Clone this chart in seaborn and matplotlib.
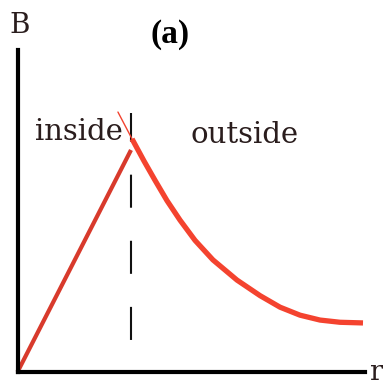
import matplotlib
matplotlib.use('Agg')
import matplotlib.pyplot as plt
import seaborn as sns
import pandas as pd

# values (r in units of the radius R, B relative to the peak)
inside_r = [0.0, 1.0]
inside_b = [0.0, 1.0]
outside_r = [1.009, 1.115, 1.211, 1.317, 1.432, 1.564, 1.722, 1.934, 2.137,
             2.313, 2.489, 2.665, 2.841, 3.044]
outside_b = [1.05, 0.950, 0.864, 0.772, 0.684, 0.593, 0.505, 0.414, 0.344,
             0.292, 0.256, 0.234, 0.224, 0.221]
stray_r = [0.885, 1.009]
stray_b = [1.171, 1.05]
boundary_r = [1.0, 1.0]
boundary_b = [1.167, 0.0]

W, H = 383, 385
sns.set_style("white")
plt.rcParams['lines.scale_dashes'] = False
plt.rcParams['font.family'] = ['DejaVu Serif']

fig = plt.figure(figsize=(W / 100, H / 100), dpi=100)
x0, y0 = 17.5, 372
ax = fig.add_axes([x0 / W, 1 - y0 / H, (365 - x0) / W, (y0 - 50) / H])
ax.set_xlim(0, (365 - x0) / 113.5)
ax.set_ylim(0, (y0 - 50) / 222)

df_in = pd.DataFrame({'r': inside_r, 'B': inside_b})
df_out = pd.DataFrame({'r': outside_r, 'B': outside_b})
df_st = pd.DataFrame({'r': stray_r, 'B': stray_b})
df_bd = pd.DataFrame({'r': boundary_r, 'B': boundary_b})

sns.lineplot(data=df_bd, x='r', y='B', sort=False, estimator=None, ax=ax,
             color='#111111', lw=1.5, linestyle=(3.2, (23.8, 23.8)))
sns.lineplot(data=df_in, x='r', y='B', sort=False, estimator=None, ax=ax,
             color='#d83a2c', lw=3.0, solid_capstyle='butt', clip_on=False)
sns.lineplot(data=df_st, x='r', y='B', sort=False, estimator=None, ax=ax,
             color='#f2432f', lw=1.0, clip_on=False)
sns.lineplot(data=df_out, x='r', y='B', sort=False, estimator=None, ax=ax,
             color='#f4432f', lw=3.8, solid_capstyle='butt',
             solid_joinstyle='round', clip_on=False)

for side in ['top', 'right']:
    ax.spines[side].set_visible(False)
for side in ['left', 'bottom']:
    ax.spines[side].set_linewidth(3.0)
    ax.spines[side].set_color('black')
    ax.spines[side].set_capstyle('projecting')
ax.set_xticks([])
ax.set_yticks([])
ax.set_xlabel('')
ax.set_ylabel('')

tc = '#2a1d1d'
def put(x, y, s, **kw):
    fig.text(x / W, 1 - y / H, s, va='baseline', color=tc, **kw)

put(9, 33, 'B', fontsize=20)
put(35, 140, 'inside', fontsize=21)
put(191, 143, 'outside', fontsize=21)
put(369, 380, 'r', fontsize=20)
fig.text(170 / W, 1 - 43 / H, '(a)', ha='center', va='baseline', color='black',
         fontsize=24, fontweight='bold', family='Liberation Serif')

fig.savefig('out.png', dpi=100)
